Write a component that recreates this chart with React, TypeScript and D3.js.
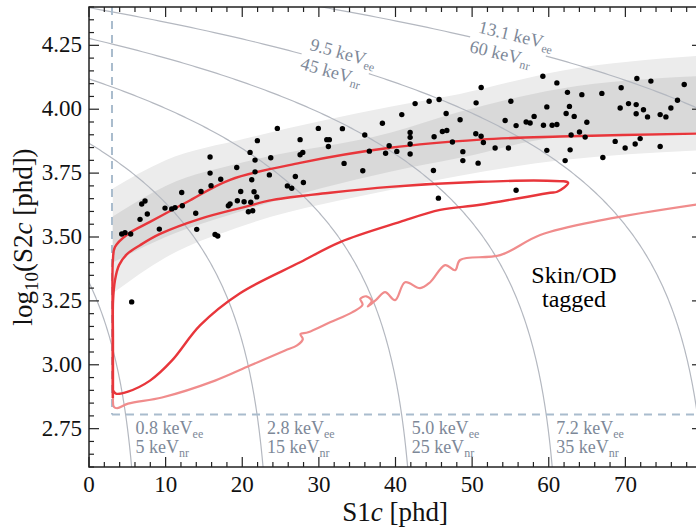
import React from "react";
import * as d3 from "d3";

// ---------- data ----------
const dotS1 = [15.8,15.8,19.28,17.19,15.93,12.1,14.62,19.8,7.31,6.88,7.61,9.92,10.8,11.23,12.18,6.66,13.93,18.41,18.19,19.36,20.24,21.11,4.27,4.7,5.44,9.18,14.06,16.45,16.8,5.57,
24.58,29.93,33.07,38.29,21.97,27.55,31.03,31.37,31.24,35.99,39.17,21.02,21.67,23.72,27.55,27.9,36.59,38.71,33.29,35.73,21.67,23.54,21.24,26.93,27.98,25.89,26.46,21.54,21.89,20.8,21.37,
42.56,44.39,45.69,40.82,46.61,48.43,50.52,46.12,46.7,41.91,41.91,45.04,50.48,47.43,41.91,40.17,41.91,48.79,48.79,50.78,44.95,45.6,55.74,59.75,62.79,62.14,
59.23,61.06,51.18,71.5,73.33,77.68,55.05,62.44,64.32,66.93,69.45,59.75,62.7,62.27,63.32,69.32,70.41,71.41,71.41,72.36,72.89,74.54,75.29,75.94,76.8,58.09,54.31,55.74,57.05,57.57,59.31,60.44,61.06,64.97,64.01,62.92,64.75,51.17,51.47,53.0,54.74,67.06,68.67,69.97,71.28,71.93,74.54];
const dotLogS2 = [3.813,3.75,3.772,3.726,3.701,3.674,3.678,3.678,3.641,3.629,3.59,3.613,3.61,3.615,3.622,3.569,3.593,3.629,3.622,3.642,3.638,3.636,3.512,3.517,3.512,3.531,3.53,3.51,3.504,3.246,
3.925,3.925,3.924,3.945,3.877,3.881,3.881,3.881,3.854,3.899,3.857,3.831,3.801,3.81,3.822,3.831,3.836,3.828,3.788,3.759,3.755,3.743,3.724,3.737,3.713,3.7,3.691,3.677,3.657,3.599,3.603,
4.022,4.031,4.038,3.979,3.983,3.959,4.025,3.913,3.917,3.909,3.89,3.892,3.904,3.872,3.864,3.835,3.825,3.834,3.799,3.789,3.76,3.652,3.683,3.839,3.841,3.799,
4.129,4.103,4.085,4.12,4.11,4.097,4.031,4.066,4.057,4.062,4.084,4.009,4.011,3.983,3.972,4.005,4.022,4.018,3.982,3.998,3.97,3.979,3.97,4.005,4.035,3.972,3.956,3.936,3.95,3.946,3.937,3.937,3.94,3.949,3.911,3.899,3.891,3.894,3.87,3.848,3.848,3.811,3.874,3.848,3.864,3.885,3.854];

// ER band (S1 vs log10 S2)
const bandS1 = [3.1, 10, 20.4, 39.3, 48.4, 61.5, 80];
const bandOuterLow = [3.28, 3.42, 3.547, 3.684, 3.74, 3.8, 3.84];
const bandInnerLow = [3.4, 3.5, 3.606, 3.755, 3.81, 3.89, 3.91];
const bandInnerHigh = [3.58, 3.7, 3.794, 3.908, 3.99, 4.08, 4.13];
const bandOuterHigh = [3.69, 3.8, 3.885, 4.01, 4.06, 4.15, 4.21];

// contours [S1, log10 S2]
const outerUpper: [number, number][] = [
  [3.1, 2.87], [3.1, 3.15], [3.12, 3.41], [3.39, 3.461], [5.0, 3.51], [7.96, 3.559], [12.79, 3.637], [18.41, 3.724],
  [27.55, 3.79], [39.29, 3.849], [51.04, 3.881], [61.49, 3.893], [80, 3.905],
];
const innerLoop: [number, number][] = [
  [3.13, 2.9], [3.13, 3.1], [3.14, 3.25], [3.39, 3.331], [3.92, 3.39], [4.96, 3.433], [6.66, 3.468], [9.27, 3.512],
  [14.49, 3.571], [20.37, 3.618], [24.02, 3.645], [31.46, 3.673], [39.29, 3.696], [51.04, 3.716], [59.79, 3.72],
  [62.53, 3.712], [61.1, 3.677], [60.18, 3.673], [51.04, 3.626], [45.82, 3.606], [40.6, 3.559], [32.77, 3.48],
  [27.55, 3.401], [19.71, 3.28], [14.49, 3.154], [10.84, 3.017], [7.96, 2.938], [5.09, 2.895], [3.52, 2.887], [3.13, 2.9],
];
const outerLower: [number, number][] = [
  [3.15, 2.88], [3.25, 2.835], [3.7, 2.83], [5.09, 2.848], [9.53, 2.872], [16.45, 2.938], [21.02, 2.997], [25.59, 3.056],
  [27.15, 3.076], [27.9, 3.1], [27.6, 3.12], [28.6, 3.127], [31.46, 3.166], [34.33, 3.205], [35.7, 3.235], [35.4, 3.258],
  [36.2, 3.268], [36.9, 3.25], [36.4, 3.228], [37.5, 3.255], [38.64, 3.284], [39.95, 3.253], [41.25, 3.323], [43.21, 3.3],
  [44.52, 3.323], [46.48, 3.39], [47.78, 3.37], [48.43, 3.41], [53.66, 3.429], [58.88, 3.508], [67.1, 3.567], [80, 3.63],
];

// constant-energy lines
const energyEe = [0.8, 2.8, 5.0, 7.2, 9.5, 13.1];
const energyNr = [5, 15, 25, 35, 45, 60];
const energyEeLabels = ["0.8", "2.8", "5.0", "7.2", "9.5", "13.1"];
const G1 = 0.1175, G2 = 36, W = 0.0137;

const xTicks = [0, 10, 20, 30, 40, 50, 60, 70];
const yTicks = [2.75, 3.0, 3.25, 3.5, 3.75, 4.0, 4.25];
const S1_THRESH = 3;
const S2_THRESH_LOG = 2.805;

// ---------- layout ----------
const Wd = 696, Ht = 528;
const left = 89, right = 702, top = 7, bottom = 467;
const x = d3.scaleLinear().domain([0, 80]).range([left, right]);
const y = d3.scaleLinear().domain([2.6, 4.4]).range([bottom, top]);
const FONT = '"Liberation Serif"';

function energyLine(E: number): [number, number][] {
  const n = E / W;
  const pts: [number, number][] = [];
  for (let L = 2.55; L <= 4.45; L += 0.005) {
    const s2 = Math.pow(10, L);
    const s1 = G1 * (n - s2 / G2);
    pts.push([s1, L]);
  }
  return pts;
}
function s1AtLog(E: number, L: number) {
  return G1 * (E / W - Math.pow(10, L) / G2);
}

export default function App() {
  const area = (lo: number[], hi: number[]) =>
    d3.area<number>().x((_, i) => x(bandS1[i])).y0((_, i) => y(lo[i])).y1((_, i) => y(hi[i])).curve(d3.curveMonotoneX)(bandS1.map((_, i) => i)) || "";
  const line = d3.line<[number, number]>().x(d => x(d[0])).y(d => y(d[1])).curve(d3.curveCatmullRom.alpha(0.5));
  const eline = d3.line<[number, number]>().x(d => x(d[0])).y(d => y(d[1]));

  const xMinor = d3.range(0, 81, 2);
  const yMinor = d3.range(2.6, 4.401, 0.05);

  const topLabels = [
    { idx: 4, s1: 28.0 },
    { idx: 5, s1: 50.0 },
  ].map(({ idx, s1 }) => {
    const E = energyEe[idx], n = E / W;
    const L = Math.log10(G2 * (n - s1 / G1));
    const s1b = s1 + 3;
    const Lb = Math.log10(G2 * (n - s1b / G1));
    const ang = Math.atan2(y(Lb) - y(L), x(s1b) - x(s1)) * 180 / Math.PI;
    return { idx, px: x(s1), py: y(L), ang };
  });

  const txt = { fontFamily: FONT };

  return (
    <svg width={Wd} height={Ht} style={{ position: "absolute", left: 0, top: 0, background: "#fff", fontFamily: FONT }}>
      <defs>
        <clipPath id="plot"><rect x={left} y={top} width={right - left} height={bottom - top} /></clipPath>
      </defs>
      <g clipPath="url(#plot)">
        <path d={area(bandOuterLow, bandOuterHigh)} fill="#ececec" />
        <path d={area(bandInnerLow, bandInnerHigh)} fill="#d9d9d9" />
        {energyEe.map((E, i) => (
          <path key={i} d={eline(energyLine(E)) || ""} fill="none" stroke="#b4b8c0" strokeWidth={1.2} />
        ))}
        {topLabels.map(t => (
          <g key={t.idx} transform={`translate(${t.px},${t.py}) rotate(${t.ang})`} style={txt}>
            <rect x={-2} y={-4} width={t.idx === 5 ? 78 : 70} height={8} fill="#fff" />
            <text x={4} y={-6} fontSize={18} fill="#7d8898" style={txt}>
              {energyEeLabels[t.idx]} keV<tspan dy={4} fontSize={12}>ee</tspan>
            </text>
            <text x={0} y={15} fontSize={18} fill="#7d8898" style={txt}>
              {energyNr[t.idx]} keV<tspan dy={4} fontSize={12}>nr</tspan>
            </text>
          </g>
        ))}
        <line x1={x(S1_THRESH)} x2={x(S1_THRESH)} y1={top} y2={y(S2_THRESH_LOG)} stroke="#a9bccd" strokeWidth={2} strokeDasharray="8,6" />
        <line x1={x(S1_THRESH)} x2={right} y1={y(S2_THRESH_LOG)} y2={y(S2_THRESH_LOG)} stroke="#a9bccd" strokeWidth={2} strokeDasharray="8,6" />
        <path d={line(outerLower) || ""} fill="none" stroke="#f08c8c" strokeWidth={2.2} />
        <path d={line(outerUpper) || ""} fill="none" stroke="#e8363b" strokeWidth={2.4} />
        <path d={line(innerLoop) || ""} fill="none" stroke="#e8363b" strokeWidth={2.4} />
        {dotS1.map((s, i) => (
          <circle key={i} cx={x(s)} cy={y(dotLogS2[i])} r={2.7} fill="#000" />
        ))}
      </g>
      {energyEe.slice(0, 4).map((E, i) => {
        const px = x(s1AtLog(E, S2_THRESH_LOG)) + 10;
        return (
          <g key={i} fill="#7d8898" fontSize={18} style={txt}>
            <text x={px} y={434} style={txt}>{energyEeLabels[i]} keV<tspan dy={4} fontSize={12}>ee</tspan></text>
            <text x={px} y={453} style={txt}>{energyNr[i]} keV<tspan dy={4} fontSize={12}>nr</tspan></text>
          </g>
        );
      })}
      <text x={574} y={283} fontSize={24} textAnchor="middle" style={txt}>Skin/OD</text>
      <text x={574} y={307} fontSize={24} textAnchor="middle" style={txt}>tagged</text>
      <rect x={left} y={top} width={right - left} height={bottom - top} fill="none" stroke="#222" strokeWidth={1.5} />
      {xMinor.map(v => {
        const major = v % 10 === 0;
        const len = major ? 10 : 5;
        return (
          <g key={"x" + v} stroke="#222" strokeWidth={1.2}>
            <line x1={x(v)} x2={x(v)} y1={bottom} y2={bottom - len} />
            <line x1={x(v)} x2={x(v)} y1={top} y2={top + len} />
          </g>
        );
      })}
      {yMinor.map(v => {
        const major = Math.abs(v * 4 - Math.round(v * 4)) < 1e-6;
        const len = major ? 10 : 5;
        return (
          <g key={"y" + v.toFixed(2)} stroke="#222" strokeWidth={1.2}>
            <line x1={left} x2={left + len} y1={y(v)} y2={y(v)} />
            <line x1={right} x2={right - len} y1={y(v)} y2={y(v)} />
          </g>
        );
      })}
      {xTicks.map(v => (
        <text key={"xt" + v} x={x(v)} y={492} fontSize={23} textAnchor="middle" fill="#111" style={txt}>{v}</text>
      ))}
      {yTicks.map(v => (
        <text key={"yt" + v} x={82} y={y(v) + 7} fontSize={23} textAnchor="end" fill="#111" style={txt}>{v.toFixed(2)}</text>
      ))}
      <text x={395} y={521} fontSize={27} textAnchor="middle" fill="#111" style={txt}>
        S1<tspan fontStyle="italic">c</tspan> [phd]
      </text>
      <text transform="translate(32,237) rotate(-90)" fontSize={27} textAnchor="middle" fill="#111" style={txt}>
        log<tspan dy={6} fontSize={19}>10</tspan><tspan dy={-6}>(S2</tspan><tspan fontStyle="italic">c</tspan> [phd])
      </text>
    </svg>
  );
}
